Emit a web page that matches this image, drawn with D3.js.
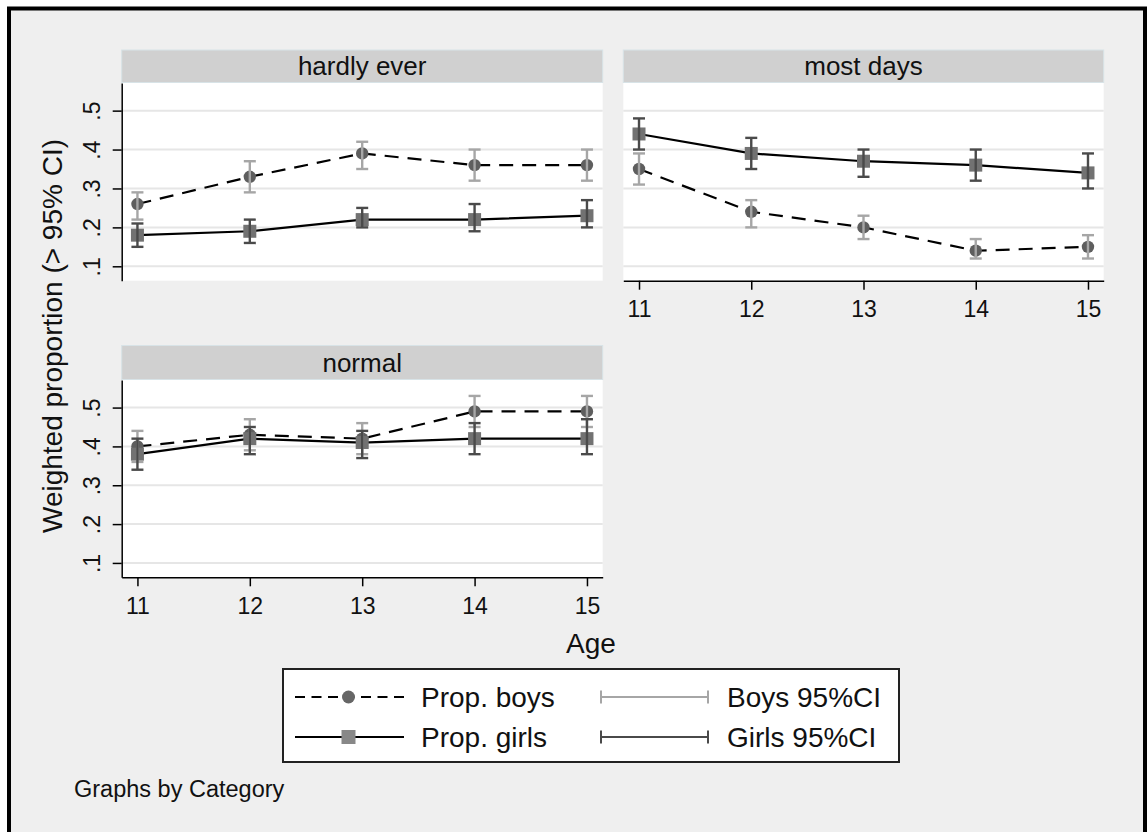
<!DOCTYPE html>
<html>
<head>
<meta charset="utf-8">
<script src="https://cdn.jsdelivr.net/npm/d3@7"></script>
<style>
  html, body { margin: 0; padding: 0; background: #ffffff; }
  svg { display: block; font-family: "Liberation Sans", Arial, Helvetica, sans-serif; }
</style>
</head>
<body>
<svg id="chart" width="1147" height="832"></svg>
<script>
// ---- data -------------------------------------------------------------
const ages = [11, 12, 13, 14, 15];
const categories = ["hardly ever", "most days", "normal"];
const yTicks = [0.1, 0.2, 0.3, 0.4, 0.5];

// hardly ever
const propBoysHardly  = [0.26, 0.33, 0.39, 0.36, 0.36];
const boysLoHardly    = [0.22, 0.29, 0.35, 0.32, 0.32];
const boysHiHardly    = [0.29, 0.37, 0.42, 0.40, 0.40];
const propGirlsHardly = [0.18, 0.19, 0.22, 0.22, 0.23];
const girlsLoHardly   = [0.15, 0.16, 0.20, 0.19, 0.20];
const girlsHiHardly   = [0.21, 0.22, 0.25, 0.26, 0.27];

// most days
const propBoysMost  = [0.35, 0.24, 0.20, 0.14, 0.15];
const boysLoMost    = [0.31, 0.20, 0.17, 0.12, 0.12];
const boysHiMost    = [0.39, 0.27, 0.23, 0.17, 0.18];
const propGirlsMost = [0.44, 0.39, 0.37, 0.36, 0.34];
const girlsLoMost   = [0.40, 0.35, 0.33, 0.32, 0.30];
const girlsHiMost   = [0.48, 0.43, 0.40, 0.40, 0.39];

// normal
const propBoysNormal  = [0.40, 0.43, 0.42, 0.49, 0.49];
const boysLoNormal    = [0.36, 0.39, 0.38, 0.45, 0.45];
const boysHiNormal    = [0.44, 0.47, 0.46, 0.53, 0.53];
const propGirlsNormal = [0.38, 0.42, 0.41, 0.42, 0.42];
const girlsLoNormal   = [0.34, 0.38, 0.37, 0.38, 0.38];
const girlsHiNormal   = [0.42, 0.45, 0.44, 0.46, 0.47];

const legendLabels = ["Prop. boys", "Prop. girls", "Boys 95%CI", "Girls 95%CI"];

// ---- styles -----------------------------------------------------------
const C = {
  bg: "#efefef", plot: "#ffffff", grid: "#e6e6e6", strip: "#d0d0d0", stripEdge: "#d8e3e7",
  circle: "#5e5e5e", square: "#727272", boysCI: "#a6a6a6", girlsCI: "#4a4a4a"
};

const svg = d3.select("#chart");

// page background and outer frame
svg.append("rect").attr("x", 0).attr("y", 0).attr("width", 1147).attr("height", 832).attr("fill", "#ffffff");
svg.append("rect").attr("x", 9).attr("y", 8.5).attr("width", 1136).attr("height", 834)
  .attr("fill", C.bg).attr("stroke", "#000").attr("stroke-width", 4);

// ---- panels -----------------------------------------------------------
const panels = [
  { title: categories[0], x0: 121.7, x1: 602.7, y0: 83, y1: 280.7, hy: 50, yAxis: true,  xAxis: false,
    boys: propBoysHardly, bLo: boysLoHardly, bHi: boysHiHardly,
    girls: propGirlsHardly, gLo: girlsLoHardly, gHi: girlsHiHardly },
  { title: categories[1], x0: 623.3, x1: 1103.7, y0: 83, y1: 280.7, hy: 50, yAxis: false, xAxis: true,
    boys: propBoysMost, bLo: boysLoMost, bHi: boysHiMost,
    girls: propGirlsMost, gLo: girlsLoMost, gHi: girlsHiMost },
  { title: categories[2], x0: 121.7, x1: 602.7, y0: 380, y1: 577.3, hy: 345.5, yAxis: true,  xAxis: true,
    boys: propBoysNormal, bLo: boysLoNormal, bHi: boysHiNormal,
    girls: propGirlsNormal, gLo: girlsLoNormal, gHi: girlsHiNormal }
];

const yFmt = d => d3.format(".1f")(d).replace(/^0/, "");

panels.forEach(p => {
  const x = d3.scaleLinear().domain([10.86, 15.14]).range([p.x0, p.x1]);
  const y = d3.scaleLinear().domain([0.063, 0.571]).range([p.y1, p.y0]);
  const g = svg.append("g");

  // strip header
  g.append("rect").attr("x", p.x0).attr("y", p.hy).attr("width", p.x1 - p.x0).attr("height", p.y0 - p.hy - 0.5)
    .attr("fill", C.strip).attr("stroke", C.stripEdge).attr("stroke-width", 1);
  g.append("text").attr("x", (p.x0 + p.x1) / 2).attr("y", p.y0 - 8)
    .attr("text-anchor", "middle").attr("font-size", 26).attr("fill", "#111").text(p.title);

  // plot region
  g.append("rect").attr("x", p.x0).attr("y", p.y0).attr("width", p.x1 - p.x0).attr("height", p.y1 - p.y0)
    .attr("fill", C.plot);

  // horizontal grid
  g.append("g").selectAll("line").data(yTicks).join("line")
    .attr("x1", p.x0).attr("x2", p.x1).attr("y1", d => y(d)).attr("y2", d => y(d))
    .attr("stroke", C.grid).attr("stroke-width", 2);

  // y axis
  if (p.yAxis) {
    const ya = g.append("g").attr("transform", `translate(${p.x0},0)`)
      .call(d3.axisLeft(y).tickValues(yTicks).tickFormat(yFmt).tickSize(9).tickSizeOuter(0));
    ya.select(".domain").attr("stroke", "#000").attr("stroke-width", 1.5);
    ya.selectAll(".tick line").attr("stroke", "#000").attr("stroke-width", 1.5);
    ya.selectAll(".tick text")
      .attr("x", 0).attr("y", -22).attr("dy", 0).attr("transform", "rotate(-90)")
      .attr("text-anchor", "middle").attr("font-size", 23).attr("fill", "#111")
      .attr("font-family", "Liberation Sans, Arial, sans-serif");
  }

  // x axis
  if (p.xAxis) {
    const xa = g.append("g").attr("transform", `translate(0,${p.y1})`)
      .call(d3.axisBottom(x).tickValues(ages).tickFormat(d3.format("d")).tickSize(9).tickSizeOuter(0));
    xa.select(".domain").attr("stroke", "#000").attr("stroke-width", 1.5);
    xa.selectAll(".tick line").attr("stroke", "#000").attr("stroke-width", 1.5);
    xa.selectAll(".tick text").attr("y", 36.5).attr("dy", 0)
      .attr("font-size", 23).attr("fill", "#111")
      .attr("font-family", "Liberation Sans, Arial, sans-serif");
  }

  const line = d3.line().x((d, i) => x(ages[i])).y(d => y(d));

  // boys: dashed line with circles
  g.append("path").datum(p.boys).attr("d", line).attr("fill", "none")
    .attr("stroke", "#000").attr("stroke-width", 2.2).attr("stroke-dasharray", "14,9");
  g.append("g").selectAll("circle").data(p.boys).join("circle")
    .attr("cx", (d, i) => x(ages[i])).attr("cy", d => y(d)).attr("r", 6.2).attr("fill", C.circle);

  // girls: solid line with squares
  g.append("path").datum(p.girls).attr("d", line).attr("fill", "none")
    .attr("stroke", "#000").attr("stroke-width", 2.2);
  g.append("g").selectAll("rect").data(p.girls).join("rect")
    .attr("x", (d, i) => x(ages[i]) - 6.5).attr("y", d => y(d) - 6.5)
    .attr("width", 13).attr("height", 13).attr("fill", C.square);

  // confidence intervals with caps
  const drawCI = (lo, hi, color) => {
    const ci = g.append("g").attr("stroke", color).attr("stroke-width", 2.4).attr("fill", "none");
    ages.forEach((a, i) => {
      const cx = x(a);
      ci.append("line").attr("x1", cx).attr("x2", cx).attr("y1", y(lo[i])).attr("y2", y(hi[i]));
      ci.append("line").attr("x1", cx - 6).attr("x2", cx + 6).attr("y1", y(lo[i])).attr("y2", y(lo[i]));
      ci.append("line").attr("x1", cx - 6).attr("x2", cx + 6).attr("y1", y(hi[i])).attr("y2", y(hi[i]));
    });
  };
  drawCI(p.bLo, p.bHi, C.boysCI);
  drawCI(p.gLo, p.gHi, C.girlsCI);
});

// ---- axis titles ------------------------------------------------------
svg.append("text").attr("transform", "translate(62,336) rotate(-90)")
  .attr("text-anchor", "middle").attr("font-size", 28).attr("fill", "#111")
  .text("Weighted proportion (> 95% CI)");
svg.append("text").attr("x", 591).attr("y", 653).attr("text-anchor", "middle")
  .attr("font-size", 28).attr("fill", "#111").text("Age");

// ---- legend -----------------------------------------------------------
const lg = svg.append("g");
lg.append("rect").attr("x", 283).attr("y", 669).attr("width", 616).attr("height", 93)
  .attr("fill", "#fff").attr("stroke", "#222").attr("stroke-width", 2);
const rowY = [697, 737];

// Prop. boys key
lg.append("line").attr("x1", 295).attr("x2", 404).attr("y1", rowY[0]).attr("y2", rowY[0])
  .attr("stroke", "#000").attr("stroke-width", 2).attr("stroke-dasharray", "10,6.5");
lg.append("circle").attr("cx", 348.5).attr("cy", rowY[0]).attr("r", 6.5).attr("fill", "#666");
// Prop. girls key
lg.append("line").attr("x1", 295).attr("x2", 404).attr("y1", rowY[1]).attr("y2", rowY[1])
  .attr("stroke", "#000").attr("stroke-width", 2);
lg.append("rect").attr("x", 341.5).attr("y", rowY[1] - 7).attr("width", 14).attr("height", 14).attr("fill", "#888");
// CI keys
[[rowY[0], C.boysCI], [rowY[1], C.girlsCI]].forEach(([ry, col]) => {
  const k = lg.append("g").attr("stroke", col).attr("stroke-width", 2);
  k.append("line").attr("x1", 601).attr("x2", 708).attr("y1", ry).attr("y2", ry);
  k.append("line").attr("x1", 601).attr("x2", 601).attr("y1", ry - 6.5).attr("y2", ry + 6.5);
  k.append("line").attr("x1", 708).attr("x2", 708).attr("y1", ry - 6.5).attr("y2", ry + 6.5);
});
const legendPos = [[421, rowY[0]], [421, rowY[1]], [727, rowY[0]], [727, rowY[1]]];
legendLabels.forEach((t, i) => {
  lg.append("text").attr("x", legendPos[i][0]).attr("y", legendPos[i][1] + 10)
    .attr("font-size", 28).attr("fill", "#111").text(t);
});

// ---- note -------------------------------------------------------------
svg.append("text").attr("x", 74).attr("y", 797).attr("font-size", 23.5).attr("fill", "#111")
  .text("Graphs by Category");
</script>
</body>
</html>
